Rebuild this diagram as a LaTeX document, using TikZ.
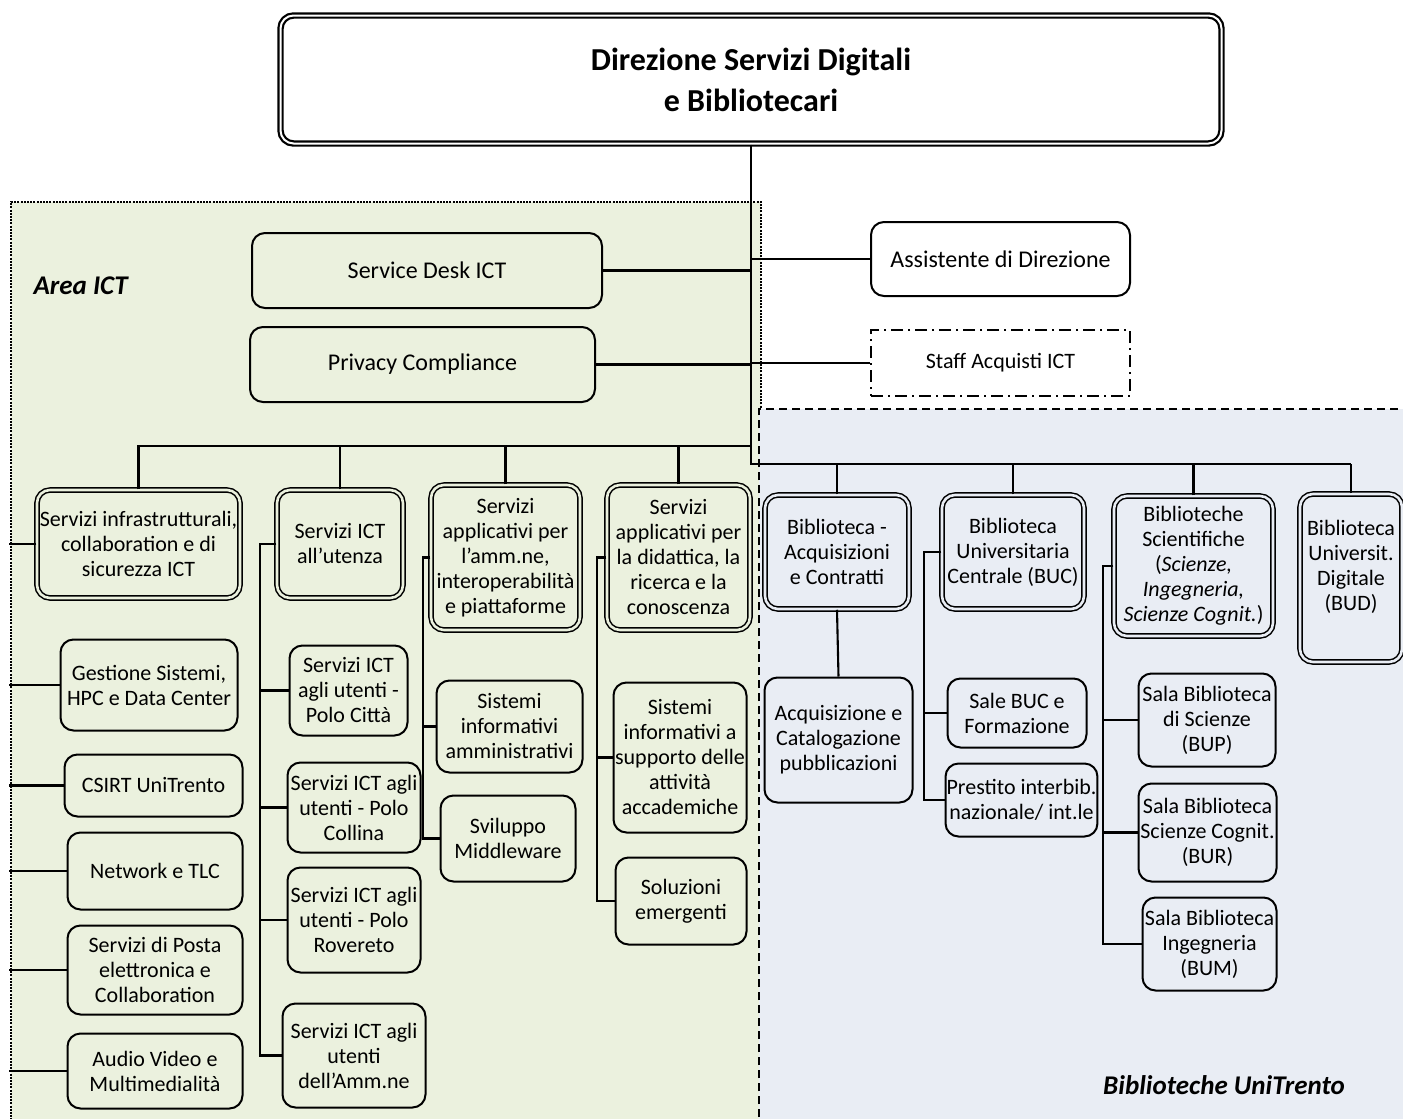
\documentclass[tikz,border=0pt]{standalone}
\usepackage{fontspec}
\setmainfont{Carlito}
\begin{document}
\begin{tikzpicture}[x=1pt, y=-1pt,
  unit/.style={draw, line width=2pt, rounded corners=13pt, align=center, inner sep=1pt, font=\fontsize{22}{25}\selectfont},
  head/.style={unit, line width=1.5pt, double=#1, double distance=2.6pt, fill=#1},
  sz/.style 2 args={minimum width=#1, minimum height=#2},
  topfont/.style={font=\fontsize{24}{29}\selectfont},
  area/.style={font=\fontsize{27}{32}\selectfont\bfseries\itshape},
  link/.style={line width=2.1pt},
  bus/.style={line width=2.8pt}]
\definecolor{ictgreen}{HTML}{EBF1DE}
\definecolor{libblue}{HTML}{E9EDF4}
\useasboundingbox (0,0) rectangle (1403,1119);
\fill[ictgreen] (11,202) rectangle (761,1130);
\draw[line width=2.8pt, dash pattern=on 2pt off 1.2pt] (11,1130) |- (761,202) -- (761,1130);
\fill[libblue] (759,409) rectangle (1410,1130);
\draw[line width=2.8pt, dash pattern=on 8pt off 5pt] (759,1130) |- (1410,409);
\node[area, anchor=west] (lict) at (30,286) {Area ICT};
\node[area] (lbib) at (1224,1085) {Biblioteche UniTrento};

\node[unit, line width=2.2pt, double=white, double distance=2pt, fill=white, sz={941}{128}, font=\fontsize{32}{41}\selectfont\bfseries] (dir) at (751,79.5) {Direzione Servizi Digitali\\e Bibliotecari};
\node[unit, topfont, fill=ictgreen, sz={350}{75}] (sd) at (427,270.5) {Service Desk ICT};
\node[unit, topfont, fill=ictgreen, sz={345}{75}] (pc) at (422.5,364.5) {Privacy Compliance};
\node[unit, topfont, fill=white, sz={259}{74}] (ad) at (1000.5,259) {Assistente di Direzione};
\node[unit, fill=white, rounded corners=0pt, line width=2.6pt, dash pattern=on 12pt off 5pt on 2pt off 5pt, sz={259}{66}] (sa) at (1000.5,363) {Staff Acquisti ICT};

\node[head=ictgreen, sz={203}{108}] (s1) at (138.5,544) {Servizi infrastrutturali,\\collaboration e di\\sicurezza ICT};
\node[head=ictgreen, sz={126}{108}] (s2) at (340,544) {Servizi ICT\\all’utenza};
\node[head=ictgreen, sz={149}{145}] (s3) at (505.5,557.5) {Servizi\\applicativi per\\l’amm.ne,\\interoperabilità\\e piattaforme};
\node[head=ictgreen, sz={143}{145}] (s4) at (678.5,557.5) {Servizi\\applicativi per\\la didattica, la\\ricerca e la\\conoscenza};
\node[head=libblue, sz={144}{114}] (b1) at (837,552) {Biblioteca -\\Acquisizioni\\e Contratti};
\node[head=libblue, sz={142}{114}] (b2) at (1013,552) {Biblioteca\\Universitaria\\Centrale (BUC)};
\node[head=libblue, sz={159}{140}] (b3) at (1193.5,566) {Biblioteche\\Scientifiche\\(\textit{Scienze,}\\\textit{Ingegneria,}\\\textit{Scienze Cognit.})};
\node[head=libblue, sz={102}{168}] (b4) at (1351,578) {Biblioteca\\Universit.\\Digitale\\(BUD)\\\mbox{}};

\node[unit, fill=ictgreen, sz={177}{91}] (g1) at (149,685) {Gestione Sistemi,\\HPC e Data Center};
\node[unit, fill=ictgreen, sz={178}{62}] (g2) at (153.5,785.5) {CSIRT UniTrento};
\node[unit, fill=ictgreen, sz={175}{77}] (g3) at (155,871) {Network e TLC};
\node[unit, fill=ictgreen, sz={175}{89}] (g4) at (155,970) {Servizi di Posta\\elettronica e\\Collaboration};
\node[unit, fill=ictgreen, sz={175}{75}] (g5) at (155,1071) {Audio Video e\\Multimedialità};

\node[unit, fill=ictgreen, sz={118}{90}] (u1) at (348.5,690.5) {Servizi ICT\\agli utenti -\\Polo Città};
\node[unit, fill=ictgreen, sz={133}{90}] (u2) at (354,807.5) {Servizi ICT agli\\utenti - Polo\\Collina};
\node[unit, fill=ictgreen, sz={133}{105}] (u3) at (354,920) {Servizi ICT agli\\utenti - Polo\\Rovereto};
\node[unit, fill=ictgreen, sz={143}{104}] (u4) at (354,1055.5) {Servizi ICT agli\\utenti\\dell’Amm.ne};

\node[unit, fill=ictgreen, sz={146}{92}] (a1) at (509.5,726.5) {Sistemi\\informativi\\amministrativi};
\node[unit, fill=ictgreen, sz={135}{86}] (a2) at (508,838.5) {Sviluppo\\Middleware};
\node[unit, fill=ictgreen, sz={133}{150}] (d1) at (680,757.5) {Sistemi\\informativi a\\supporto delle\\attività\\accademiche};
\node[unit, fill=ictgreen, sz={131}{87}] (d2) at (681,901) {Soluzioni\\emergenti};

\node[unit, fill=libblue, sz={148}{125}] (b1c) at (838.5,740) {Acquisizione e\\Catalogazione\\pubblicazioni};
\node[unit, fill=libblue, sz={139}{69}] (p1) at (1017,713) {Sale BUC e\\Formazione};
\node[unit, fill=libblue, sz={150}{73}] (p2) at (1021.5,800) {Prestito interbib.\\nazionale/ int.le};
\node[unit, fill=libblue, sz={137}{93}] (q1) at (1207,720) {Sala Biblioteca\\di Scienze\\(BUP)};
\node[unit, fill=libblue, sz={138}{98}] (q2) at (1207.5,832.5) {Sala Biblioteca\\Scienze Cognit.\\(BUR)};
\node[unit, fill=libblue, sz={134}{93}] (q3) at (1209.5,944) {Sala Biblioteca\\Ingegneria\\(BUM)};

\coordinate (jL) at (751,446);
\coordinate (jR) at (751,464);
\coordinate (edge) at (9,0);
\coordinate (c2) at (260,544);
\coordinate (c3) at (423,557.5);
\coordinate (c4) at (597,557.5);
\coordinate (c6) at (924,552);
\coordinate (c7) at (1103,566);

\draw[bus] (dir.south) -- (jR) -- (jR -| b4.north);
\draw[link] (sd.east) -- (sd.east -| jL);
\draw[link] (pc.east) -- (pc.east -| jL);
\draw[link] (ad.west) -- (ad.west -| jL);
\draw[link] (sa.west) -- (sa.west -| jL);
\foreach \n in {s1,s2,s3,s4} \draw[link] (\n.north) |- (jL);
\foreach \n in {b1,b2,b3,b4} \draw[link] (\n.north) -- (\n.north |- jR);
\foreach \n in {s1,g1,g2,g3,g4,g5} \draw[link] (\n.west) -- (\n.west -| edge);
\draw[link] (s2.west) -- (c2) |- (u4.west);
\foreach \n in {u1,u2,u3} \draw[link] (\n.west) -- (\n.west -| c2);
\draw[link] (s3.west) -- (c3) |- (a2.west);
\draw[link] (a1.west) -- (a1.west -| c3);
\draw[link] (s4.west) -- (c4) |- (d2.west);
\draw[link] (d1.west) -- (d1.west -| c4);
\draw[link] (b1.south) -- (b1c.north);
\draw[link] (b2.west) -- (c6) |- (p2.west);
\draw[link] (p1.west) -- (p1.west -| c6);
\draw[link] (b3.west) -- (c7) |- (q3.west);
\foreach \n in {q1,q2} \draw[link] (\n.west) -- (\n.west -| c7);
\end{tikzpicture}
\end{document}
